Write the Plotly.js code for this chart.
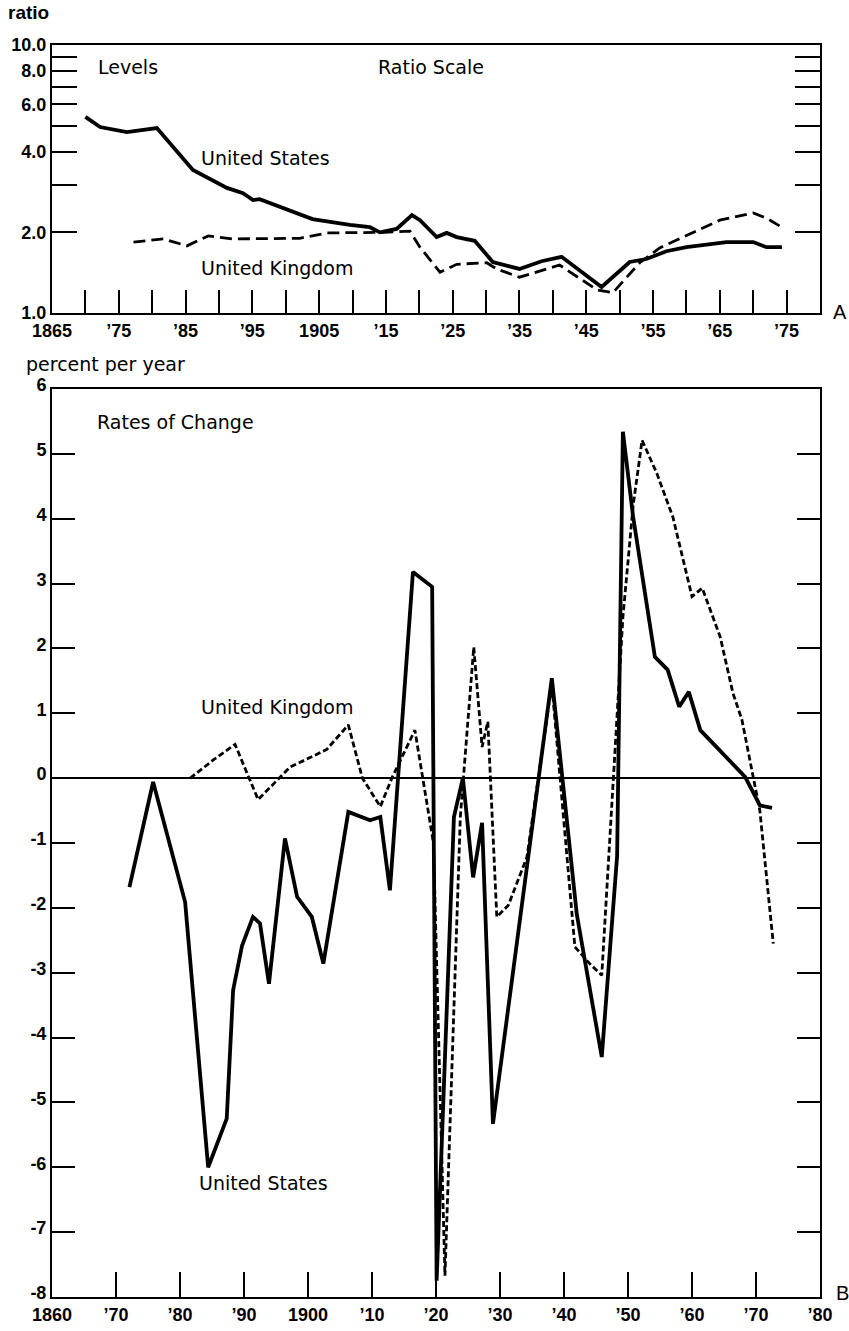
<!DOCTYPE html>
<html>
<head>
<meta charset="utf-8">
<script src="https://cdn.plot.ly/plotly-3.0.1.min.js"></script>
<style>html,body{margin:0;padding:0;background:#fff;}#chart{width:849px;height:1331px;}</style>
</head>
<body>
<div id="chart"></div>
<script>
// ---- Panel A: levels (ratio scale) ----
const usLevelYears = [1870, 1872.2, 1876.2, 1880.7, 1886.1, 1891.2, 1893.6, 1895.1, 1896.1, 1904, 1909.6, 1912.6, 1914.1, 1916.6, 1918.9, 1920.1, 1922.6, 1924.1, 1925.6, 1928.3, 1931, 1935, 1938.3, 1941.3, 1947.3, 1951.5, 1954, 1957, 1960, 1966, 1970, 1972, 1974.3];
const usLevels = [5.39, 4.94, 4.73, 4.9, 3.42, 2.93, 2.80, 2.64, 2.66, 2.24, 2.13, 2.09, 2.0, 2.06, 2.32, 2.22, 1.92, 1.99, 1.92, 1.86, 1.55, 1.46, 1.56, 1.62, 1.25, 1.55, 1.59, 1.70, 1.76, 1.84, 1.84, 1.76, 1.76];
const ukLevelYears = [1877.2, 1881.7, 1885.2, 1888.4, 1892.1, 1897.2, 1902.1, 1906.2, 1914.6, 1918.6, 1920.1, 1923.1, 1925.6, 1930.1, 1931.6, 1935, 1941, 1946.6, 1949, 1950, 1953, 1956, 1959.5, 1965, 1970, 1972, 1974.4];
const ukLevels = [1.84, 1.89, 1.78, 1.94, 1.89, 1.90, 1.90, 1.99, 2.0, 2.02, 1.76, 1.42, 1.52, 1.54, 1.46, 1.36, 1.51, 1.22, 1.19, 1.27, 1.54, 1.75, 1.92, 2.22, 2.36, 2.26, 2.08];

// ---- Panel B: rates of change (percent per year) ----
const usRateYears = [1872.1, 1875.8, 1880.8, 1884.4, 1887.3, 1888.3, 1889.7, 1891.4, 1892.5, 1893.9, 1896.4, 1898.3, 1900.6, 1902.4, 1906.3, 1909.7, 1911.3, 1912.8, 1916.4, 1919.4, 1920.1, 1922.8, 1924.2, 1925.8, 1927.2, 1928.9, 1938.1, 1942, 1945.9, 1948.3, 1949.2, 1950.8, 1954.2, 1956.2, 1958, 1959.5, 1961.3, 1966.4, 1968.3, 1970.6, 1972.5];
const usRates = [-1.68, -0.06, -1.91, -6.0, -5.25, -3.27, -2.58, -2.14, -2.24, -3.17, -0.93, -1.83, -2.14, -2.86, -0.52, -0.65, -0.6, -1.73, 3.18, 2.95, -7.75, -0.6, 0.0, -1.53, -0.69, -5.33, 1.54, -2.1, -4.3, -1.2, 5.34, 4.03, 1.87, 1.67, 1.1, 1.33, 0.74, 0.2, 0.02, -0.42, -0.46];
const ukRateYears = [1881.6, 1885.2, 1888.6, 1892.2, 1897.2, 1902.9, 1906.3, 1908.5, 1911.3, 1913.1, 1916.7, 1919.6, 1921.4, 1923.8, 1925.9, 1927.2, 1928.1, 1929.5, 1931.3, 1934.2, 1938.1, 1941.7, 1944, 1945.9, 1949.2, 1950.8, 1952.2, 1954.5, 1957, 1960, 1961.6, 1964.4, 1966.4, 1967.8, 1970.6, 1972.7];
const ukRates = [0.0, 0.28, 0.52, -0.33, 0.17, 0.44, 0.82, 0.0, -0.44, 0.0, 0.74, -1.0, -7.67, -0.6, 2.02, 0.48, 0.87, -2.14, -1.96, -1.22, 1.45, -2.6, -2.86, -3.04, 2.48, 4.2, 5.21, 4.7, 4.03, 2.8, 2.93, 2.18, 1.31, 0.9, -0.5, -2.55];

// ---- Tick labels ----
const levelTickYears = [1865,1870,1875,1880,1885,1890,1895,1900,1905,1910,1915,1920,1925,1930,1935,1940,1945,1950,1955,1960,1965,1970,1975];
const levelTickLabels = ["1865","","\u201975","","\u201985","","\u201995","","1905","","\u201915","","\u201925","","\u201935","","\u201945","","\u201955","","\u201965","","\u201975"];
const ratioTickVals = [1,2,3,4,5,6,7,8,9,10];
const ratioTickLabels = ["1.0","2.0","","4.0","","6.0","","8.0","","10.0"];
const rateTickYears = [1860,1870,1880,1890,1900,1910,1920,1930,1940,1950,1960,1970,1980];
const rateYearLabels = ["1860","\u201970","\u201980","\u201990","1900","\u201910","\u201920","\u201930","\u201940","\u201950","\u201960","\u201970","\u201980"];
const rateTickVals = [-8,-7,-6,-5,-4,-3,-2,-1,0,1,2,3,4,5,6];
const rateTickLabels = ["-8","-7","-6","-5","-4","-3","-2","-1","0","1","2","3","4","5","6"];

const W = 849, H = 1331, L = 52, R = 29, T = 45, B = 34;
const PW = W - L - R, PH = H - T - B;
const px = x => (x - L) / PW;
const py = y => (H - B - y) / PH;

const FONT = 'Liberation Sans, Arial, Helvetica, sans-serif';
const TEXTFONT = 'DejaVu Sans, Liberation Sans, Arial, sans-serif';

const traces = [
  {x: usLevelYears, y: usLevels, xaxis: 'x', yaxis: 'y', mode: 'lines', line: {color: '#000', width: 3.8}, name: 'United States'},
  {x: ukLevelYears, y: ukLevels, xaxis: 'x', yaxis: 'y', mode: 'lines', line: {color: '#000', width: 2.8, dash: '12px,6px'}, name: 'United Kingdom'},
  {x: usRateYears, y: usRates, xaxis: 'x2', yaxis: 'y2', mode: 'lines', line: {color: '#000', width: 3.8}, name: 'United States'},
  {x: ukRateYears, y: ukRates, xaxis: 'x2', yaxis: 'y2', mode: 'lines', line: {color: '#000', width: 2.8, dash: '6px,3px'}, name: 'United Kingdom'}
];

const axBase = {
  showgrid: false, zeroline: false, showline: true, linecolor: '#000', linewidth: 2,
  ticks: 'inside', tickcolor: '#000', tickwidth: 2, tickmode: 'array',
  tickfont: {family: FONT, size: 18, color: '#000', weight: 'bold'}
};

function ann(text, x, y, opts) {
  return Object.assign({text: text, xref: 'paper', yref: 'paper', x: px(x), y: py(y),
    xanchor: 'left', yanchor: 'middle', showarrow: false,
    font: {family: TEXTFONT, size: 19, color: '#000'}}, opts || {});
}

const layout = {
  width: W, height: H,
  margin: {l: L, r: R, t: T, b: B},
  paper_bgcolor: '#fff', plot_bgcolor: '#fff',
  showlegend: false,
  font: {family: FONT, color: '#000'},
  xaxis: Object.assign({}, axBase, {domain: [0, 1], anchor: 'y', range: [1865, 1980],
    tickvals: levelTickYears, ticktext: levelTickLabels, ticklen: 23, mirror: true}),
  yaxis: Object.assign({}, axBase, {domain: [py(313), 1], anchor: 'x', type: 'log', range: [0, 1],
    tickvals: ratioTickVals, ticktext: ratioTickLabels, ticklen: 25, mirror: 'ticks'}),
  xaxis2: Object.assign({}, axBase, {domain: [0, 1], anchor: 'y2', range: [1860, 1980],
    tickvals: rateTickYears, ticktext: rateYearLabels, ticklen: 25, mirror: true}),
  yaxis2: Object.assign({}, axBase, {domain: [0, py(389)], anchor: 'x2', range: [-8, 6],
    tickvals: rateTickVals, ticktext: rateTickLabels, ticklen: 23, mirror: 'ticks',
    ticklabelshift: -4,
    zeroline: true, zerolinecolor: '#000', zerolinewidth: 1.6}),
  annotations: [
    ann('ratio', 6, 13, {font: {family: FONT, size: 19, color: '#000', weight: 'bold'}}),
    ann('Levels', 96, 67),
    ann('Ratio Scale', 376, 67),
    ann('United States', 199, 158),
    ann('United Kingdom', 199, 268),
    ann('A', 831, 312, {font: {family: FONT, size: 20, color: '#000'}}),
    ann('percent per year', 24, 364),
    ann('Rates of Change', 95, 422),
    ann('United Kingdom', 199, 707),
    ann('United States', 197, 1183),
    ann('B', 834, 1293, {font: {family: FONT, size: 20, color: '#000'}})
  ]
};

Plotly.newPlot('chart', traces, layout, {staticPlot: true, displayModeBar: false});
</script>
</body>
</html>
